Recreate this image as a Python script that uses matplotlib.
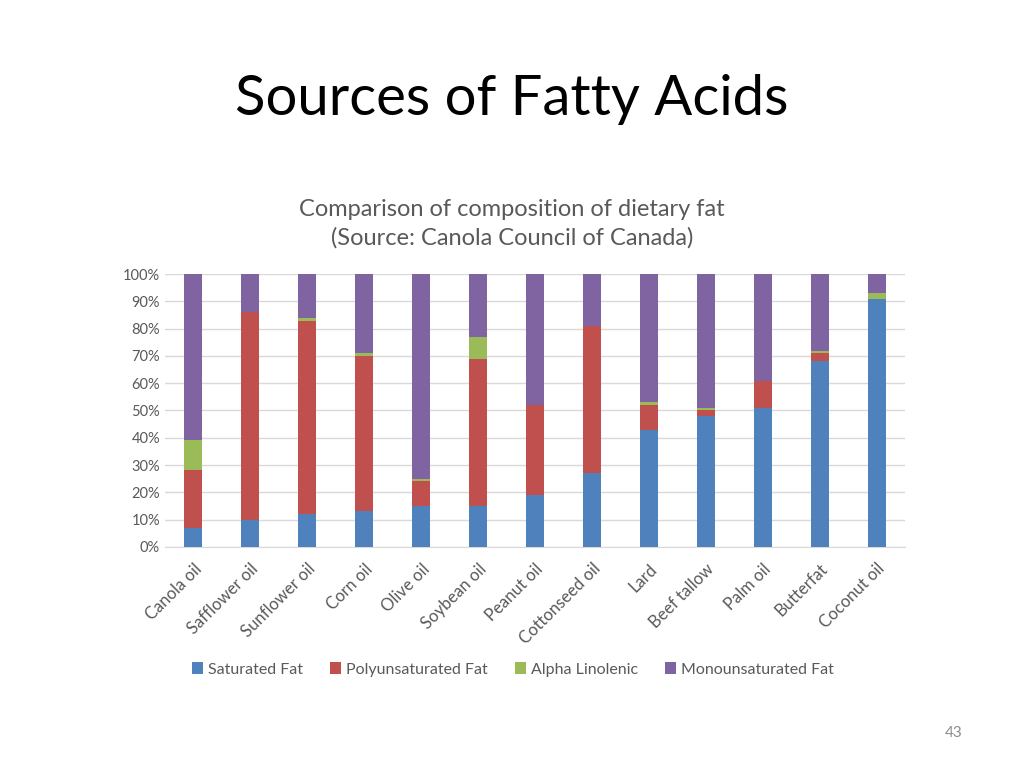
import matplotlib.pyplot as plt
import numpy as np

plt.rcParams['font.family'] = ['Lato', 'DejaVu Sans']

# Data (percent of total fat)
oils = ['Canola oil', 'Safflower oil', 'Sunflower oil', 'Corn oil', 'Olive oil',
        'Soybean oil', 'Peanut oil', 'Cottonseed oil', 'Lard', 'Beef tallow',
        'Palm oil', 'Butterfat', 'Coconut oil']
saturated = [7, 10, 12, 13, 15, 15, 19, 27, 43, 48, 51, 68, 91]
polyunsaturated = [21, 76, 71, 57, 9, 54, 33, 54, 9, 2, 10, 3, 0]
alpha_linolenic = [11, 0, 1, 1, 1, 8, 0, 0, 1, 1, 0, 1, 2]
monounsaturated = [61, 14, 16, 29, 75, 23, 48, 19, 47, 49, 39, 28, 7]

series = [('Saturated Fat', saturated, '#4F81BD'),
          ('Polyunsaturated Fat', polyunsaturated, '#C0504D'),
          ('Alpha Linolenic', alpha_linolenic, '#9BBB59'),
          ('Monounsaturated Fat', monounsaturated, '#8064A2')]

fig = plt.figure(figsize=(10.24, 7.68), dpi=100)
fig.text(0.5, 0.871, 'Sources of Fatty Acids', ha='center', va='center',
         fontsize=40.5, color='black')
fig.text(0.5, 0.709, 'Comparison of composition of dietary fat\n(Source: Canola Council of Canada)',
         ha='center', va='center', fontsize=17, color='#595959', linespacing=1.4)
fig.text(0.931, 0.045, '43', ha='center', va='center', fontsize=11, color='#8c8c8c')

ax = fig.add_axes([0.161, 0.288, 0.723, 0.355])
x = np.arange(len(oils))
bottom = np.zeros(len(oils))
for name, vals, color in series:
    ax.bar(x, vals, bottom=bottom, width=0.32, color=color, label=name, zorder=3)
    bottom += np.array(vals)

ax.set_xlim(-0.5, len(oils) - 0.5)
ax.set_ylim(0, 100)
ax.set_yticks(range(0, 101, 10))
ax.set_yticklabels([f'{v}%' for v in range(0, 101, 10)])
ax.yaxis.grid(True, color='#d9d9d9', linewidth=1, zorder=0)
for s in ['top', 'right', 'left']:
    ax.spines[s].set_visible(False)
ax.spines['bottom'].set_color('#d9d9d9')
ax.tick_params(axis='both', length=0, colors='#595959', labelsize=10.5)
ax.set_xticks(x)
ax.set_xticklabels(oils, rotation=45, ha='right', rotation_mode='anchor', fontsize=12)
ax.tick_params(axis='x', pad=10)

ax.legend(loc='center', bbox_to_anchor=(0.47, -0.45), ncol=4, frameon=False,
          fontsize=11.5, handlelength=0.7, handleheight=0.7, handletextpad=0.3,
          columnspacing=1.7, labelcolor='#595959')

fig.savefig('out.png', dpi=100)
